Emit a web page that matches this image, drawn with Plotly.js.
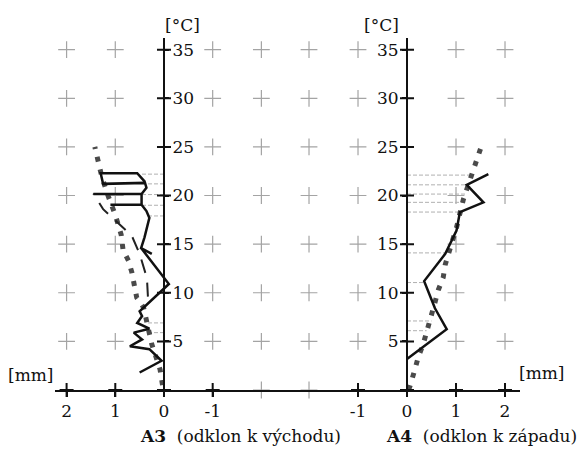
<!DOCTYPE html>
<html>
<head>
<meta charset="utf-8">
<script src="https://cdn.plot.ly/plotly-3.0.1.min.js"></script>
<style>html,body{margin:0;padding:0;background:#fff;}#chart{width:584px;height:450px;}</style>
</head>
<body>
<div id="chart"></div>
<script>
// ---------- data ----------
// A3 (left panel, deflection to the east), x in mm, y in °C
const a3SolidX = [0.5, 0.05, 0.3, 0.7, 0.45, 0.62, 0.3, 0.55, 0.45, 0.5, -0.1, 0.47, 0.25, 0.47, 0.4, 0.3, 0.36, 0.46, 1.1, 0.46, 0.46, 1.45, 0.46, 0.36, 0.39, 1.25, 1.3, 0.55, 0.39];
const a3SolidY = [1.8, 3.0, 4.2, 4.5, 5.2, 5.9, 6.3, 6.9, 7.6, 8.1, 10.9, 14.6, 14.0, 14.6, 15.7, 17.7, 18.4, 19.05, 19.05, 19.05, 20.15, 20.15, 20.15, 20.8, 21.3, 21.2, 22.3, 22.3, 21.4];
const a3DotX = [0.03, 0.08, 0.25, 0.42, 0.56, 0.6, 0.66, 0.73, 0.84, 0.88, 1.0, 1.15, 1.28, 1.42];
const a3DotY = [0.5, 2.1, 4.7, 8.5, 9.5, 10.9, 12.1, 13.3, 14.4, 16.0, 18.0, 20.0, 22.0, 25.0];
const a3DashX = [0.33, 0.35, 0.5, 0.66, 1.25, 1.45];
const a3DashY = [9.6, 11.5, 14.0, 15.85, 18.6, 20.2];
const a3HatchY = [22.2, 21.2, 20.1, 19.0, 17.9, 6.9, 5.9];
const a3HatchX = [0.46, 0.39, 0.46, 0.46, 0.3, 0.33, 0.3];

// A4 (right panel, deflection to the west)
const a4SolidX = [0.0, 0.81, 0.57, 0.35, 0.78, 1.01, 1.08, 1.56, 1.22, 1.66];
const a4SolidY = [3.2, 6.25, 8.4, 11.2, 14.0, 16.4, 18.3, 19.3, 21.1, 22.2];
const a4DotX = [0.03, 0.06, 0.16, 0.23, 0.33, 0.4, 0.47, 0.57, 0.64, 0.74, 0.78, 0.94, 1.01, 1.15, 1.35, 1.42, 1.52];
const a4DotY = [0.0, 0.4, 2.1, 3.4, 4.7, 6.1, 7.45, 9.0, 10.3, 11.6, 12.9, 15.3, 16.7, 19.6, 22.5, 23.75, 25.1];
const a4HatchY = [22.1, 21.1, 20.15, 19.3, 18.3, 14.1, 11.05, 7.1, 6.1];
const a4HatchX = [1.32, 1.18, 1.2, 1.2, 1.08, 0.8, 0.33, 0.5, 0.4];

// ticks / grid
const yTicks = [5, 10, 15, 20, 25, 30, 35];
const gridY = [0, 5, 10, 15, 20, 25, 30, 35];
const a3XTicks = [2, 1, 0, -1];
const a3XTickText = ['2', '1', '0', '-1'];
const a3GridX = [2, 1, -1, -2];
const a4XTicks = [-1, 0, 1, 2];
const a4XTickText = ['-1', '0', '1', '2'];
const a4GridX = [-2, -1, 1, 2];

// ---------- helpers ----------
const FONT = 'DejaVu Serif';
const W = 584, H = 450;
const px = v => v / W, py = v => 1 - v / H;

function gridTrace(gx, ticks, xa, ya) {
  const x = [], y = [];
  gx.forEach(gxv => gridY.forEach(gyv => {
    if (gyv === 0 && ticks.includes(gxv)) return;
    x.push(gxv); y.push(gyv);
  }));
  return {x, y, xaxis: xa, yaxis: ya, mode: 'markers', type: 'scatter', cliponaxis: false, hoverinfo: 'skip',
    marker: {symbol: 'cross-thin', size: 12, line: {width: 1.2, color: '#a4a4a4'}}};
}
function axisTickTrace(ticks, xa, ya) {
  const x = [], y = [];
  ticks.forEach(t => { x.push(t); y.push(0); });
  yTicks.forEach(t => { x.push(0); y.push(t); });
  return {x, y, xaxis: xa, yaxis: ya, mode: 'markers', type: 'scatter', cliponaxis: false, hoverinfo: 'skip',
    marker: {symbol: 'cross-thin', size: 10, line: {width: 2, color: '#111'}}};
}
function hatchTrace(hy, hx, xa, ya) {
  const x = [], y = [];
  hy.forEach((v, i) => { x.push(0, hx[i], null); y.push(v, v, null); });
  return {x, y, xaxis: xa, yaxis: ya, mode: 'lines', type: 'scatter', hoverinfo: 'skip',
    line: {color: '#b0b0b0', width: 1, dash: '4px,2px'}};
}
function lineTrace(x, y, xa, ya, color, width, dash) {
  return {x, y, xaxis: xa, yaxis: ya, mode: 'lines', type: 'scatter', hoverinfo: 'skip', cliponaxis: false,
    line: {color, width, dash: dash || 'solid'}};
}

const traces = [
  gridTrace(a3GridX, a3XTicks, 'x', 'y'),
  gridTrace(a4GridX, a4XTicks, 'x2', 'y2'),
  hatchTrace(a3HatchY, a3HatchX, 'x', 'y'),
  hatchTrace(a4HatchY, a4HatchX, 'x2', 'y2'),
  lineTrace(a3DotX, a3DotY, 'x', 'y', '#4a4a4a', 5, '5px,8px'),
  lineTrace(a4DotX, a4DotY, 'x2', 'y2', '#4a4a4a', 5, '5px,8px'),
  lineTrace(a3DashX, a3DashY, 'x', 'y', '#222', 2, '14px,10px'),
  lineTrace(a3SolidX, a3SolidY, 'x', 'y', '#111', 2.5),
  lineTrace(a4SolidX, a4SolidY, 'x2', 'y2', '#111', 2.5),
  axisTickTrace(a3XTicks, 'x', 'y'),
  axisTickTrace(a4XTicks, 'x2', 'y2')
];

const tickFont = {family: FONT, size: 17, color: '#111'};
const xCommon = {showgrid: false, zeroline: false, showline: true, linecolor: '#111', linewidth: 2,
  ticks: 'outside', ticklen: 5, tickwidth: 2, tickcolor: '#111', tickfont: tickFont, fixedrange: true};
const yCommon = {showgrid: false, zeroline: false, showline: true, linecolor: '#111', linewidth: 2,
  ticks: 'outside', ticklen: 4, tickwidth: 2, tickcolor: '#111', tickfont: tickFont,
  tickvals: yTicks, ticktext: yTicks.map(String), range: [0, 36.2],
  domain: [60 / H, 412 / H], anchor: 'free', fixedrange: true};

function ann(text, x, y, size) {
  return {text, x: px(x), y: py(y), xref: 'paper', yref: 'paper', xanchor: 'center', yanchor: 'middle',
    showarrow: false, font: {family: FONT, size: size || 16, color: '#111'}};
}

const layout = {
  width: W, height: H, autosize: false,
  margin: {l: 0, r: 0, t: 0, b: 0},
  paper_bgcolor: '#fff', plot_bgcolor: 'rgba(0,0,0,0)',
  showlegend: false,
  font: {family: FONT},
  xaxis: Object.assign({}, xCommon, {domain: [px(55), px(285)], range: [2.238, -2.485], anchor: 'y',
    tickvals: a3XTicks, ticktext: a3XTickText}),
  xaxis2: Object.assign({}, xCommon, {domain: [px(285), px(520)], range: [-2.49, 2.306], anchor: 'y2',
    tickvals: a4XTicks, ticktext: a4XTickText}),
  yaxis: Object.assign({}, yCommon, {position: px(164), side: 'right'}),
  yaxis2: Object.assign({}, yCommon, {position: px(407), side: 'left'}),
  annotations: [
    ann('[°C]', 182, 25, 17),
    ann('[°C]', 382, 25, 17),
    ann('[mm]', 31, 375, 17),
    ann('[mm]', 542, 373, 17),
    ann('<b>A3</b>  (odklon k východu)', 240, 436, 17),
    ann('<b>A4</b>  (odklon k západu)', 481, 436, 17)
  ]
};

Plotly.newPlot('chart', traces, layout, {staticPlot: true, displayModeBar: false});
</script>
</body>
</html>
